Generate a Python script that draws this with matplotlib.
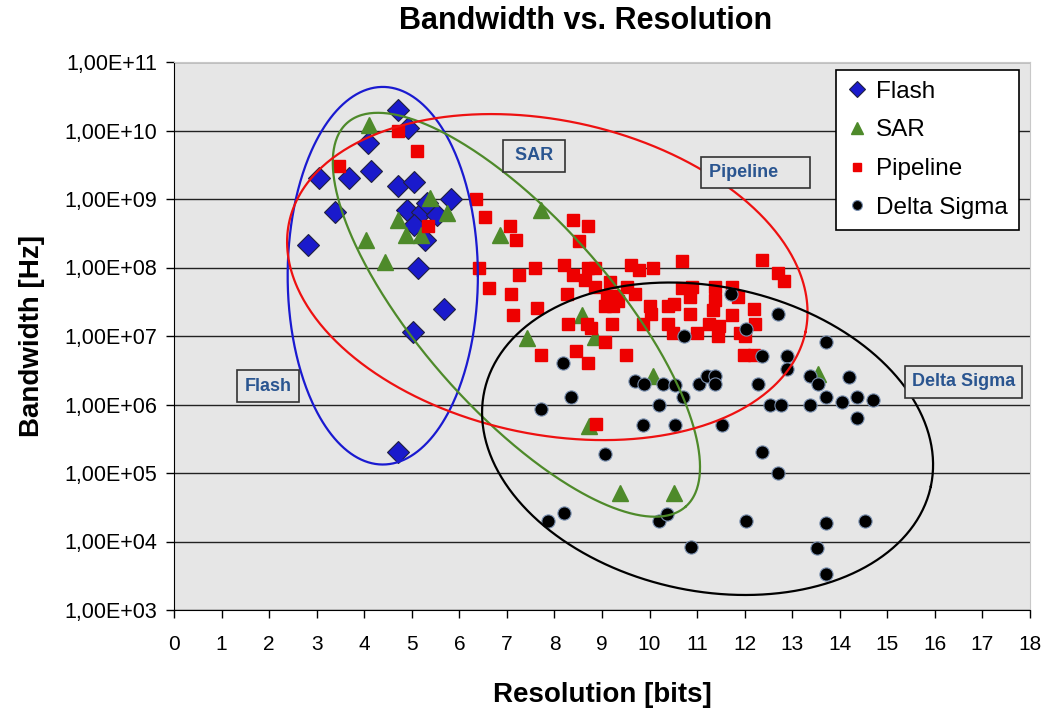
import numpy as np
import matplotlib
matplotlib.use("Agg")
import matplotlib.pyplot as plt
from matplotlib.ticker import FixedLocator, FuncFormatter, NullLocator

plt.rcParams['font.family'] = ['Liberation Sans', 'DejaVu Sans']

# ---- data (resolution in bits, bandwidth in Hz) ----
flash_bits = [4.72, 4.92, 4.07, 3.05, 3.69, 4.14, 4.71, 5.05, 5.82, 3.38, 4.89,
              5.21, 5.33, 5.54, 5.05, 5.28, 2.81, 5.14, 5.68, 5.03, 4.72]
flash_bw = [2.0e10, 1.1e10, 6.6e9, 2.0e9, 2.0e9, 2.6e9, 1.55e9, 1.8e9, 1.0e9, 6.5e8, 6.9e8,
            6.5e8, 8.7e8, 5.8e8, 4.2e8, 2.5e8, 2.1e8, 1.0e8, 2.5e7, 1.15e7, 2.0e5]

sar_bits = [4.10, 5.39, 5.75, 4.70, 4.87, 5.19, 4.04, 4.44, 7.72, 6.86, 8.58,
            7.43, 8.85, 10.08, 8.72, 9.37, 10.52, 13.54]
sar_bw = [1.2e10, 1.05e9, 6.2e8, 4.9e8, 3.0e8, 3.0e8, 2.5e8, 1.2e8, 6.8e8, 3.0e8, 2.0e7,
          9.5e6, 9.8e6, 2.6e6, 4.9e5, 5.1e4, 5.1e4, 2.8e6]

pipe_bits = [4.70, 5.10, 3.46, 6.36, 6.53, 5.34, 6.42, 7.07, 7.20, 6.62, 7.26, 7.08, 7.59,
             7.12, 7.64, 8.38, 8.70, 8.51, 8.21, 8.38, 8.71, 8.85, 8.65, 8.85, 8.27, 9.16,
             9.11, 9.28, 9.53, 9.69, 9.60, 9.77, 10.07, 10.68, 10.68, 10.89, 9.34, 9.06,
             9.23, 10.01, 10.39, 10.51, 10.85, 10.85, 10.04, 8.28, 8.69, 8.76, 9.21, 9.87,
             10.38, 10.49, 10.99, 9.06, 7.72, 8.46, 8.71, 9.50, 8.88, 11.43, 12.36, 12.71,
             12.82, 11.38, 11.73, 11.38, 11.87, 11.34, 11.73, 12.19, 12.22, 11.24, 11.45,
             11.91, 12.01, 11.98, 12.19]
pipe_bw = [1.0e10, 5.1e9, 3.0e9, 1.0e9, 5.5e8, 4.1e8, 1.0e8, 4.1e8, 2.5e8, 5.1e7, 7.8e7, 4.1e7, 1.0e8,
           2.0e7, 2.6e7, 5.0e8, 4.1e8, 2.4e8, 1.1e8, 7.8e7, 1.0e8, 1.0e8, 6.6e7, 5.2e7, 4.1e7, 6.2e7,
           3.8e7, 3.8e7, 5.2e7, 4.1e7, 1.1e8, 9.2e7, 1.0e8, 1.26e8, 5.1e7, 5.2e7, 3.2e7, 2.7e7,
           2.7e7, 2.7e7, 2.7e7, 2.9e7, 3.7e7, 2.1e7, 2.1e7, 1.5e7, 1.5e7, 1.3e7, 1.5e7, 1.5e7,
           1.5e7, 1.1e7, 1.1e7, 8.3e6, 5.3e6, 6.1e6, 4.1e6, 5.3e6, 5.2e5, 1.0e7, 1.3e8, 8.2e7,
           6.4e7, 5.2e7, 5.2e7, 3.3e7, 3.7e7, 2.4e7, 2.0e7, 2.5e7, 1.5e7, 1.5e7, 1.4e7,
           1.1e7, 1.0e7, 5.3e6, 5.3e6]

ds_bits = [10.72, 8.18, 8.35, 7.71, 9.70, 9.88, 10.29, 10.53, 10.71, 10.20, 9.87, 10.53, 11.53,
           9.06, 7.86, 8.20, 10.20, 10.37, 10.87, 11.04, 11.20, 11.38, 11.38, 11.71, 12.71, 12.03,
           13.70, 12.36, 12.88, 12.88, 13.37, 13.54, 12.28, 14.20, 13.70, 14.04, 14.37, 14.70,
           12.54, 12.77, 13.38, 14.37, 12.36, 12.70, 12.03, 13.70, 14.53, 13.52, 13.70]
ds_bw = [1.0e7, 4.0e6, 1.3e6, 8.5e5, 2.2e6, 2.0e6, 2.0e6, 1.9e6, 1.3e6, 1.0e6, 5.1e5, 5.1e5, 5.1e5,
         1.9e5, 2.0e4, 2.6e4, 2.0e4, 2.5e4, 8.3e3, 2.0e6, 2.6e6, 2.6e6, 2.0e6, 4.1e7, 2.1e7, 1.26e7,
         8.2e6, 5.1e6, 5.1e6, 3.3e6, 2.6e6, 2.0e6, 2.0e6, 2.5e6, 1.3e6, 1.1e6, 1.3e6, 1.15e6,
         1.0e6, 1.0e6, 1.0e6, 6.3e5, 2.0e5, 1.0e5, 2.0e4, 1.85e4, 2.0e4, 8.1e3, 3.3e3]

x_ticks = list(range(0, 19))
y_exponents = list(range(3, 12))

W, H = 1046, 713
fig = plt.figure(figsize=(W / 100, H / 100), dpi=100)
ax = fig.add_axes([174 / W, 1 - 610 / H, (1030 - 174) / W, (610 - 62) / H])
ax.set_facecolor('#e6e6e6')

ax.plot(flash_bits, flash_bw, 'D', ms=11, mfc='#1a1acc', mec='#202040', mew=0.8, ls='none', label='Flash')
ax.plot(sar_bits, sar_bw, '^', ms=11.5, mfc='#4e8a2a', mec='#4e8a2a', ls='none', label='SAR')
ax.plot(pipe_bits, pipe_bw, 's', ms=8.5, mfc='#ee0000', mec='#ee0000', ls='none', label='Pipeline')
ax.plot(ds_bits, ds_bw, 'o', ms=9.5, mfc='black', mec='#7a90b0', mew=0.8, ls='none', label='Delta Sigma')

ax.set_yscale('log')
ax.set_xlim(0, 18)
ax.set_ylim(1e3, 1e11)

# ellipses drawn in screen-like space (x units vs decades)
bbox = ax.get_position()
ratio = (bbox.height * H / 8) / (bbox.width * W / 18)  # x-units per decade on screen


def draw_ellipse(cx, cly, a, b, ang, color):
    t = np.linspace(0, 2 * np.pi, 500)
    th = np.deg2rad(ang)
    dx = a * np.cos(t) * np.cos(th) - b * np.sin(t) * np.sin(th)
    dy = a * np.cos(t) * np.sin(th) + b * np.sin(t) * np.cos(th)
    ax.plot(cx + dx, 10 ** (cly + dy / ratio), color=color, lw=1.6, zorder=5)


draw_ellipse(4.39, 7.88, 2.0, 3.97, 0, '#1a1ad0')
draw_ellipse(7.2, 7.31, 5.38, 2.0, -48.6, '#4e8a2a')
draw_ellipse(7.85, 7.86, 5.55, 3.3, -12, '#ee1111')
draw_ellipse(11.22, 5.5, 4.8, 3.2, -12, 'black')

# group labels
box = dict(boxstyle='square,pad=0.4', fc='#e6e6e6', ec='#333333', lw=1.2)
for txt, x, ly in [('Flash', 1.98, 6.27), (' SAR ', 7.57, 9.63),
                   ('Pipeline     ', 12.23, 9.39), ('Delta Sigma', 16.6, 6.33)]:
    ax.text(x, 10 ** ly, txt, ha='center', va='center', fontsize=13, fontweight='bold',
            color='#2a5590', bbox=box, zorder=6)

# grid and ticks
ax.xaxis.set_major_locator(FixedLocator(x_ticks))
ax.yaxis.set_major_locator(FixedLocator([10.0 ** e for e in y_exponents]))
ax.yaxis.set_minor_locator(NullLocator())
ax.yaxis.set_major_formatter(FuncFormatter(lambda v, p: '1,00E+%02d' % int(round(np.log10(v)))))
ax.grid(axis='y', color='#222222', lw=1.0)
ax.set_axisbelow(True)
ax.tick_params(axis='both', direction='out', length=6, width=1, labelsize=15.5)
ax.tick_params(axis='y', pad=6)
ax.tick_params(axis='x', pad=12, labelsize=15)
for s in ['top', 'right']:
    ax.spines[s].set_color('#c8c8c8')
for s in ['left', 'bottom']:
    ax.spines[s].set_color('black')

ax.set_xlabel('Resolution [bits]', fontsize=20, fontweight='bold', labelpad=20)
ax.set_ylabel('Bandwidth [Hz]', fontsize=20, fontweight='bold', labelpad=14)
fig.text(586 / W, 1 - 21 / H, 'Bandwidth vs. Resolution', ha='center', va='center',
         fontsize=22, fontweight='bold')

leg = ax.legend(loc='upper left', bbox_to_anchor=(0.7734, 0.9854), borderaxespad=0, fontsize=17.5,
                frameon=True, fancybox=False, edgecolor='black', framealpha=1, markerscale=0.75,
                handlelength=0.8, handletextpad=0.4, labelspacing=0.68, borderpad=0.45)
leg.get_frame().set_linewidth(1.2)
leg.set_zorder(10)

fig.savefig('out.png', dpi=100)
